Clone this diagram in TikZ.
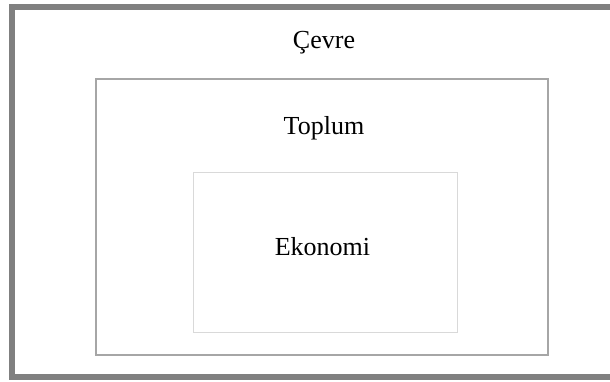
\documentclass[tikz,border=0pt]{standalone}
\usepackage{fontspec}
\setmainfont{Liberation Serif}
\usepackage{xcolor}
\usepackage{tikz}

\definecolor{outergray}{HTML}{808080}
\definecolor{midgray}{HTML}{A6A6A6}
\definecolor{innergray}{HTML}{D9D9D9}

\tikzset{
    layer/.style={rectangle, draw, inner sep=0pt},
    lbl/.style={anchor=base, font=\fontsize{26}{30}\selectfont}
}

\begin{document}
\begin{tikzpicture}[x=1pt, y=-1pt]
    \useasboundingbox (0,0) rectangle (610,381);
    \clip (0,0) rectangle (610,381);
    % Layers
    \node (cevre) [layer, draw=outergray, line width=6pt, minimum width=608.3pt, minimum height=370pt] at (315.85,192) {};
    \node (toplum) [layer, draw=midgray, line width=2pt, minimum width=452.2pt, minimum height=276pt] at (321.6,217) {};
    \node (ekonomi) [layer, draw=innergray, line width=1pt, minimum width=264pt, minimum height=160pt] at (325,252.5) {};

    % Labels
    \node (cevrelbl) [lbl] at (324,48) {Çevre};
    \node (toplumlbl) [lbl] at (324,134.3) {Toplum};
    \node (ekonomilbl) [lbl] at (322.5,255) {Ekonomi};
\end{tikzpicture}
\end{document}
